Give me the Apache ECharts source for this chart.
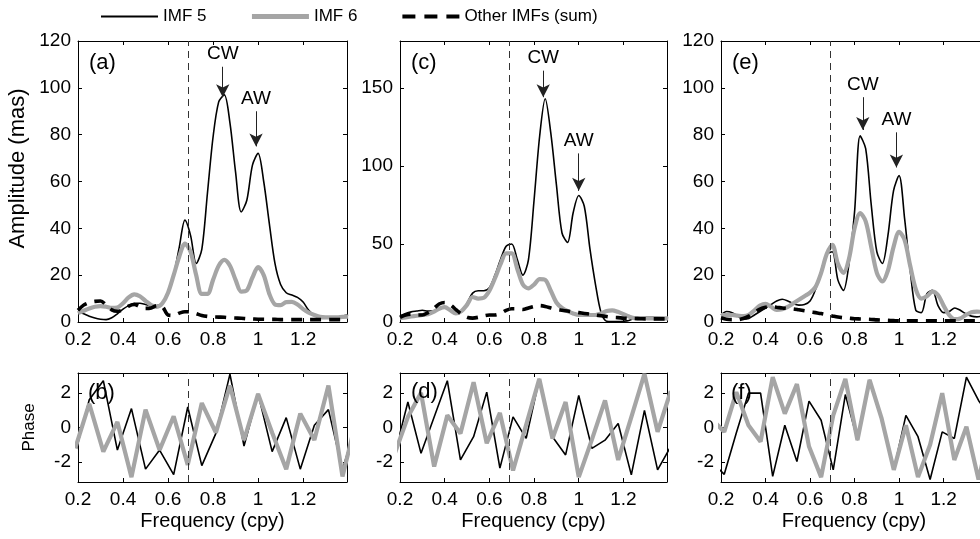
<!DOCTYPE html>
<html><head><meta charset="utf-8">
<script src="https://cdn.jsdelivr.net/npm/echarts@6/dist/echarts.min.js"></script>
<style>html,body{margin:0;padding:0;background:#fff}#c{width:980px;height:539px}</style>
</head><body><div id="c"></div><script>
// ---------------- DATA ----------------
const ampFreq = [0.2,0.225,0.25,0.275,0.3,0.325,0.35,0.375,0.4,0.425,0.45,0.475,0.5,0.525,0.55,0.575,0.6,0.625,0.65,0.675,0.7,0.725,0.75,0.775,0.8,0.825,0.85,0.875,0.9,0.925,0.95,0.975,1.0,1.025,1.05,1.075,1.1,1.125,1.15,1.175,1.2,1.225,1.25,1.275,1.3,1.325,1.35,1.375,1.4];

const ampA_imf5 = [4.5,3.5,2.5,1.7,1.2,1.0,1.8,3.5,5.5,7.0,8.0,8.0,7.5,7.0,7.0,8.0,12,20,32,43.5,37,25,31,55,79,94,97,85,64,47,52,67,72,60,42,25,16,12.5,11.5,10.5,8.5,5,2.8,1.8,1.7,1.7,1.9,2.6,3];
const ampA_imf6 = [3.8,4.8,5.8,6.5,6.8,6.5,6.0,6.2,8.0,10.5,11.8,11.0,9.0,7.2,6.5,8.0,12.5,20,28,33.5,30,20,12,12,18,24,26.5,24,18,13,13.5,19,23.4,20,12,7.5,7.2,8.5,8.6,7.5,5.5,4,3,2.2,2,2,2,2.2,2.3];
const ampA_other = [5,7.2,8.3,8.8,9,7.3,5.2,4.6,5.2,6.8,7.5,6.5,5.8,6,7,6.5,3,2.8,3.8,4.4,4.3,3.6,2.8,2.4,2.2,2.1,2,1.8,1.7,1.6,1.4,1.3,1.2,1.2,1.1,1.1,1,1,1,1,1,1,1,1,1,1,1,1,1];

const ampC_imf5 = [4,5.5,6.5,7,7.5,7,7,8.5,9.5,8,6,6.5,12,18.5,20,20,22,30,40,48.5,50,40,30,40,78,119,143,121,88,57,51,70,81,74,47,24,6,0.5,0.3,0.3,0.5,1,2.5,3,3,3,3,2.8,2.5];
const ampC_imf6 = [2.5,3,3.5,4,4.5,5,6.5,8.5,9.5,7.5,5.5,7,11,16,15,15.5,20,28,37,44,44,34,24,21.5,24,27.5,27,20,12.5,9,7,5.5,4.5,4.5,4.5,4.5,5.5,7,7.5,6.5,5,3.5,2.5,2.5,2.4,2.3,2.3,2.3,2.3];
const ampC_other = [3,4.5,5,4.5,4.5,6,8.5,11.5,12.5,11,8,5,3,2.5,3,4,4.5,4.5,5.5,7.5,8.5,8.5,8,9,10,10.5,10,9,8,7.5,7,6.5,6,5.5,5,4.5,4,3.5,3,2.8,2.5,2.3,2.2,2.1,2,2,2,2,2];

const ampE_imf5 = [3,4.5,4,2.5,1.2,1.5,3,4.5,6,7.5,9,9.7,9,7.8,7.2,7.5,9,14,22,29,30,18,13.5,25,47,79.5,74,50,30,25,37,56,62.5,44,22,5,4,12,13.5,7,4,4.5,6,5,3.5,2.5,2.2,2.5,3];
const ampE_imf6 = [3,3,3,2.7,2.5,3,5,7,7.8,6.5,5.2,5.5,6.5,8,9.5,11,12.5,15,21,29,33,25,21,27,40,46.5,43,32,21,17.3,22,32,38.5,35,24,14,10,11,13,11.5,7,3,1.2,1.5,3,4.2,4.4,4.3,4];
const ampE_other = [1.8,1.2,1,1,1.5,2.5,4,5.5,6.3,6.5,6.3,6,5.8,5.6,5.2,4.8,4.4,4,3.6,3.1,2.6,2.1,1.8,1.6,1.4,1.3,1.2,1.1,0.9,0.8,0.7,0.6,0.5,0.5,0.5,0.5,0.5,0.5,0.5,0.5,0.5,0.5,0.5,0.5,0.5,0.5,0.5,0.5,0.5];

const phaseFreqB = [0.1875,0.25,0.3125,0.375,0.4375,0.5,0.5625,0.625,0.6875,0.75,0.8125,0.875,0.9375,1.0,1.0625,1.125,1.1875,1.25,1.3125,1.375,1.4375];
const phaseB_imf5 = [-1.5,1.6,2.7,-1.3,1.09,-2.4,-1.3,-2.72,1.18,-2.2,-0.34,3.08,-1.07,1.94,-1.39,0.57,-2.4,0.13,1.03,-2.44,0.3];
const phaseB_imf6 = [-1.2,1.37,-1.39,0.32,-2.86,1.03,-1.3,0.65,-2.15,1.41,-0.3,2.42,-0.72,1.94,-0.3,-2.4,0.8,-0.72,2.42,-2.82,0.5];

const phaseFreqD = [0.1765,0.2353,0.2941,0.3529,0.4118,0.4706,0.5294,0.5882,0.6471,0.7059,0.7647,0.8235,0.8824,0.9412,1.0,1.0588,1.1176,1.1765,1.2353,1.2941,1.3529,1.4118];
const phaseD_imf5 = [-1.54,1.47,-1.49,0.6,2.7,-1.87,-0.53,2.04,-2.34,0.61,-0.63,2.8,-0.53,-1.58,1.85,-1.2,-0.73,0.23,-2.73,0.99,-2.44,-1.1];
const phaseD_imf6 = [-1.5,0.6,2.0,-2.25,0.7,-0.34,2.61,-0.91,0.84,-2.48,0.16,2.8,-0.63,1.47,-2.86,-0.7,1.56,-1.87,0.6,3.09,-0.25,2.1];

const phaseFreqF = [0.1602,0.2146,0.269,0.3234,0.3778,0.4322,0.4866,0.541,0.5954,0.6498,0.7042,0.7586,0.813,0.8674,0.9218,0.9762,1.0306,1.085,1.1394,1.1938,1.2482,1.3026,1.357,1.4114];
const phaseF_imf5 = [-2.0,-2.7,-0.3,1.98,1.98,-2.82,0.13,-1.96,1.52,0.42,-2.44,1.9,-0.72,2.74,0.51,-2.44,0.7,-0.53,-3.0,-0.25,-0.63,2.9,1.56,0.5];
const phaseF_imf6 = [0.45,-0.25,2.04,0.13,-0.82,2.9,0.8,2.5,-1.1,-2.86,0.7,2.8,-0.72,2.74,0.51,-2.44,0.13,-2.86,-1.0,1.98,-1.87,0.04,-3.0,0.0];

const refFreq = 0.685;             // vertical dashed reference line (cpy)
// annotations: [label, frequency, arrow start value, arrow tip value]
const annotA = [['CW',0.843,109,96],['AW',0.991,90,75]];
const annotC = [['CW',0.841,161,144],['AW',1.0,108,84]];
const annotE = [['CW',0.837,96,82],['AW',0.988,81,66]];

const seriesNames = ['IMF 5','IMF 6','Other IMFs (sum)'];
const panelLabels = ['(a)','(c)','(e)','(b)','(d)','(f)'];

// ---------------- CHART ----------------
const FONT = "'Liberation Sans', Arial, Helvetica, sans-serif";
const GRAY = '#a5a5a5';
const grids = [
  {left:78, top:41, width:269, height:281},
  {left:400, top:41, width:267, height:281},
  {left:721, top:41, width:266, height:281},
  {left:78, top:373, width:269, height:109},
  {left:400, top:373, width:267, height:109},
  {left:721, top:373, width:266, height:109}
].map(g => Object.assign({outerBoundsMode:'none', containLabel:false, show:false}, g));

function stepFmt(step){
  return v => {
    const r = v/step;
    if (Math.abs(r - Math.round(r)) > 1e-6) return '';
    return String(+v.toFixed(2));
  };
}
const tickStyle = {show:true, inside:true, length:4, lineStyle:{color:'#000', width:1}};
const lineAx = {show:true, onZero:false, lineStyle:{color:'#000', width:1}};

const xAxis = [], yAxis = [];
grids.forEach((g, gi) => {
  const bottomRow = gi >= 3;
  const base = {type:'value', gridIndex:gi, min:0.2, max:1.395, interval:0.2,
    splitLine:{show:false}, axisLine:lineAx, axisTick:tickStyle};
  xAxis.push(Object.assign({}, base, {position:'bottom',
    axisLabel:{show:true, color:'#000', fontSize:19, fontFamily:FONT, margin:8, formatter:stepFmt(0.2)},
    name: bottomRow ? 'Frequency (cpy)' : '', nameLocation:'middle', nameGap:29,
    nameTextStyle:{color:'#000', fontSize:20, fontFamily:FONT}}));
  xAxis.push(Object.assign({}, base, {position:'top', axisLabel:{show:false}}));
  let yb;
  if (!bottomRow) {
    const isC = gi === 1;
    yb = {type:'value', gridIndex:gi, min:0, max: isC ? 180 : 120, interval: isC ? 50 : 20,
      splitLine:{show:false}, axisLine:lineAx, axisTick:tickStyle};
    yAxis.push(Object.assign({}, yb, {position:'left',
      axisLabel:{show:true, color:'#000', fontSize:19, fontFamily:FONT, margin:7, formatter:stepFmt(isC?50:20)},
      name: gi===0 ? 'Amplitude (mas)' : '', nameLocation:'middle', nameGap:49,
      nameTextStyle:{color:'#000', fontSize:22, fontFamily:FONT, padding:[0,0,0,26]}}));
  } else {
    yb = {type:'value', gridIndex:gi, min:-Math.PI, max:Math.PI, splitNumber:3,
      splitLine:{show:false}, axisLine:lineAx, axisTick:tickStyle};
    yAxis.push(Object.assign({}, yb, {position:'left',
      axisLabel:{show:true, color:'#000', fontSize:19, fontFamily:FONT, margin:7, formatter:stepFmt(2)},
      name: gi===3 ? 'Phase' : '', nameLocation:'middle', nameGap:40,
      nameTextStyle:{color:'#000', fontSize:17, fontFamily:FONT}}));
  }
  yAxis.push(Object.assign({}, yb, {position:'right', axisLabel:{show:false}}));
});

function mkLine(name, gi, xs, ys, style, z, smooth){
  return {type:'line', name, xAxisIndex:2*gi, yAxisIndex:2*gi,
    data: xs.map((x,i)=>[x, ys[i]]), symbol:'none', showSymbol:false,
    smooth: smooth ? 0.3 : false, clip:true, z,
    lineStyle: style, itemStyle:{color: style.color},
    emphasis:{disabled:true}, silent:true, animation:false};
}
const styleBlack = {color:'#000', width:1.6};
const styleGray = {color:GRAY, width:4.2};
const styleDash = {color:'#000', width:3.6, type:[11,8]};

function refLineMark(annots){
  const data = [{xAxis: refFreq, label:{show:false}, lineStyle:{color:'#333', width:1, type:[7,5]}}];
  (annots||[]).forEach(a => {
    data.push([
      {coord:[a[1], a[2]], symbol:'none',
       label:{show:true, formatter:a[0], position:'start', distance:3, color:'#000', fontSize:19, fontFamily:FONT}},
      {coord:[a[1], a[3]], symbol:'arrow', symbolSize:[10,13], lineStyle:{color:'#222', width:1, type:'solid'}}
    ]);
  });
  return {silent:true, symbol:['none','none'], animation:false, data,
    lineStyle:{color:'#222', width:1, type:'solid'}};
}

const series = [];
const amp = [[ampA_imf5, ampA_imf6, ampA_other, annotA],[ampC_imf5, ampC_imf6, ampC_other, annotC],[ampE_imf5, ampE_imf6, ampE_other, annotE]];
amp.forEach((p, gi) => {
  series.push(mkLine(seriesNames[0], gi, ampFreq, p[0], styleBlack, 2, true));
  series.push(mkLine(seriesNames[1], gi, ampFreq, p[1], styleGray, 3, true));
  const s = mkLine(seriesNames[2], gi, ampFreq, p[2], styleDash, 4, true);
  s.markLine = refLineMark(p[3]);
  series.push(s);
});
const ph = [[phaseFreqB, phaseB_imf5, phaseB_imf6],[phaseFreqD, phaseD_imf5, phaseD_imf6],[phaseFreqF, phaseF_imf5, phaseF_imf6]];
ph.forEach((p, k) => {
  const gi = 3 + k;
  series.push(mkLine(seriesNames[0], gi, p[0], p[1], styleBlack, 2, false));
  const s = mkLine(seriesNames[1], gi, p[0], p[2], styleGray, 3, false);
  s.markLine = refLineMark(null);
  series.push(s);
});

const titles = [
  [89,52],[411,52],[732,52],[88,382],[411,381],[731,382]
].map((pos, i) => ({text: panelLabels[i], left: pos[0], top: pos[1], padding:0,
  textStyle:{color:'#000', fontSize:22, fontWeight:'normal', fontFamily:FONT}}));

const hiddenSym = {opacity:0, color:'rgba(0,0,0,0)', borderWidth:0};
const option = {
  animation:false,
  backgroundColor:'#fff',
  textStyle:{fontFamily:FONT},
  title: titles,
  legend:{show:true, left:100, top:8, padding:0, orient:'horizontal',
    data:[
      {name:seriesNames[0], itemStyle:hiddenSym, lineStyle:{width:2, color:'#000'}},
      {name:seriesNames[1], itemStyle:hiddenSym, lineStyle:{width:5, color:GRAY}},
      {name:seriesNames[2], itemStyle:hiddenSym, lineStyle:{width:4, color:'#000', type:[13,9]}}
    ],
    itemWidth:57, itemHeight:14, itemGap:43, selectedMode:false,
    textStyle:{color:'#000', fontSize:17, fontFamily:FONT}},
  grid: grids, xAxis, yAxis, series
};
const chart = echarts.init(document.getElementById('c'), null, {renderer:'canvas'});
chart.setOption(option);
</script></body></html>
